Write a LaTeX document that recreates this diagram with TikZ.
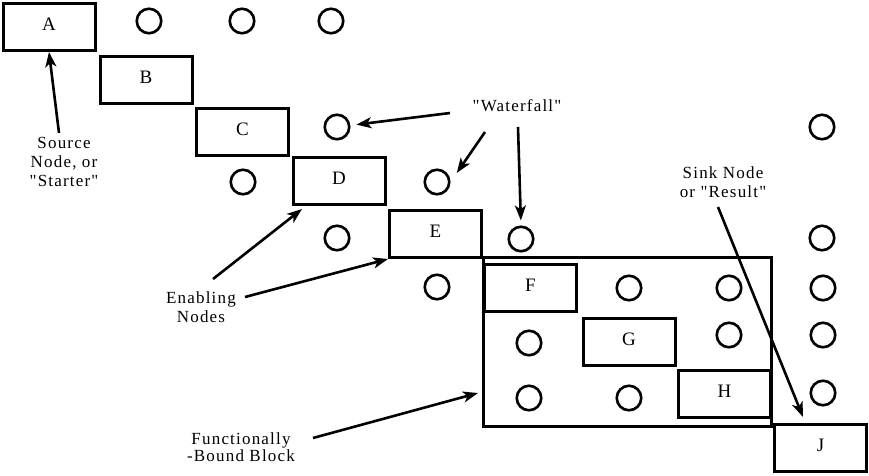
\documentclass[tikz,border=0pt]{standalone}
\usepackage{fontspec}
\setmainfont{Liberation Serif}
\newfontfamily\trackedserif[LetterSpace=7]{Liberation Serif}
\usetikzlibrary{arrows.meta}

\begin{document}
\begin{tikzpicture}[
  x=1pt,
  y=-1pt,
  line join=miter,
  stepbox/.style={draw,line width=3pt,minimum width=92pt,minimum height=47pt,
    inner sep=0pt,text depth=5pt,font=\fontsize{19}{22}\selectfont},
  blockframe/.style={draw,line width=3pt,minimum width=288pt,minimum height=169pt,inner sep=0pt},
  waitdot/.style={draw,circle,line width=2.6pt,minimum size=24.5pt,inner sep=0pt},
  note/.style={align=center,inner sep=0pt,font=\trackedserif\fontsize{17}{19}\selectfont},
  pointer/.style={line width=2.6pt,-{Stealth[length=15pt,width=11pt,inset=4pt]}}
]
  % Match the artwork frame.
  \useasboundingbox (0,0) rectangle (869,475);

  % The functionally-bound block sits behind F, G and H.
  \node[blockframe] (blk) at (627.5,342) {};

  % Staircase of task boxes.
  \foreach \name/\px/\py in {A/49/27,B/146/80,C/242.5/132,D/339/181,E/435.5/234,
      F/530.5/288,G/629/342,H/724.5/393.5,J/820.5/447.5} {
    \node[stepbox] (\name) at (\px,\py) {\name};
  }

  % Idle nodes drawn as open circles.
  \foreach \px/\py [count=\i] in {149/21,242/21,331/21,337/127,822/127,243/182,437/182,
      337/238,521/239,822/238,437/287,629/288,729/288,823/288,529/343,729/335,823/335,
      529/398,629/398,823/393} {
    \node[waitdot] (c\i) at (\px,\py) {};
  }

  % Callout texts.
  \node[note] (src) at (64,162) {Source\\Node, or\\"Starter"};
  \node[note] (wf) at (517,106) {"Waterfall"};
  \node[note] (en) at (201,307) {Enabling\\Nodes};
  \node[note,font=\trackedserif\fontsize{17}{17}\selectfont] (fn) at (241,447) {Functionally\\-Bound Block};
  \node[note] (sk) at (723,182) {Sink Node\\or "Result"};

  % Arrow tails and free arrow tips.
  \coordinate (srcTail) at (59,133);
  \coordinate (wfTailA) at (450,113);
  \coordinate (wfTailB) at (485,132);
  \coordinate (wfTailC) at (518,127);
  \coordinate (enTailA) at (213,279);
  \coordinate (enTailB) at (245,297);
  \coordinate (enTipA) at (302,209);
  \coordinate (fnTail) at (313,438);
  \coordinate (fnTip) at (478,393);
  \coordinate (skTail) at (718,207);
  \coordinate (skTip) at (803,417);

  \draw[pointer] (srcTail) -- (A.south);
  \draw[pointer,shorten >=6pt] (wfTailA) -- (c4);
  \draw[pointer,shorten >=11pt] (wfTailB) -- (c7.east);
  \draw[pointer,shorten >=5pt] (wfTailC) -- (c9.north);
  \draw[pointer] (enTailA) -- (enTipA);
  \draw[pointer] (enTailB) -- (E.south west);
  \draw[pointer] (fnTail) -- (fnTip);
  \draw[pointer] (skTail) -- (skTip);
\end{tikzpicture}
\end{document}
